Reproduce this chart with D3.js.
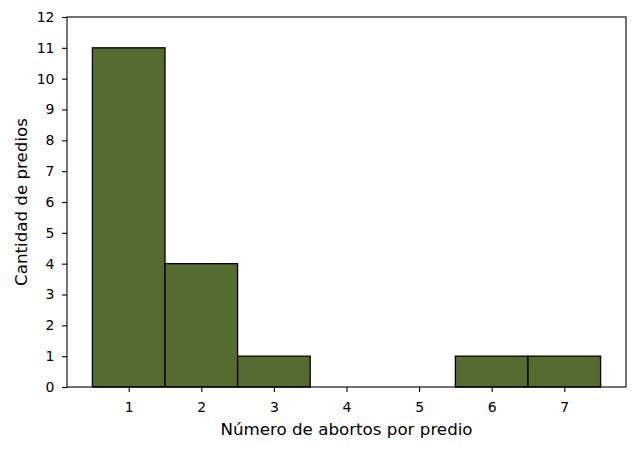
<!DOCTYPE html>
<html><head><meta charset="utf-8">
<script src="https://cdn.jsdelivr.net/npm/d3@7"></script>
<style>body{margin:0;background:#fff}svg{display:block}text{font-family:"DejaVu Sans",sans-serif}</style>
</head><body><svg id="c" width="637" height="450"></svg>
<script>
const categories = [1, 2, 3, 4, 5, 6, 7];
const counts = [11, 4, 1, 0, 0, 1, 1];
const yTicks = [0,1,2,3,4,5,6,7,8,9,10,11,12];
const xLabel = "Número de abortos por predio";
const yLabel = "Cantidad de predios";

const svg = d3.select("#c");
const L = 67, R = 626, T = 17, B = 387;
const x = d3.scaleLinear().domain([0.15, 7.85]).range([L, R]);
const y = d3.scaleLinear().domain([0, 12]).range([B, T]);

svg.append("g").selectAll("rect").data(categories).join("rect")
  .attr("x", d => x(d - 0.5)).attr("width", d => x(d + 0.5) - x(d - 0.5))
  .attr("y", (d,i) => y(counts[i])).attr("height", (d,i) => y(0) - y(counts[i]))
  .attr("fill", "#556B2F").attr("stroke", "#000").attr("stroke-width", 1.3);

const xa = svg.append("g").attr("transform", `translate(0,${B})`)
  .call(d3.axisBottom(x).tickValues(categories).tickSize(5).tickPadding(10).tickFormat(d3.format("d")));
const ya = svg.append("g").attr("transform", `translate(${L},0)`)
  .call(d3.axisLeft(y).tickValues(yTicks).tickSize(5).tickPadding(7.5).tickFormat(d3.format("d")));
[xa, ya].forEach(a => {
  a.select(".domain").remove();
  a.attr("font-size", null).attr("font-family", null);
  a.selectAll(".tick line").attr("stroke", "#000").attr("stroke-width", 1.1);
  a.selectAll(".tick text").attr("fill", "#000").style("font-size", "14px").style("font-family", "DejaVu Sans");
});
svg.append("rect").attr("x", L).attr("y", T).attr("width", R - L).attr("height", B - T)
  .attr("fill", "none").attr("stroke", "#000").attr("stroke-width", 1.1);

svg.append("text").attr("x", (L + R) / 2).attr("y", 435).attr("text-anchor", "middle")
  .style("font-size", "16.7px").text(xLabel);
svg.append("text").attr("transform", `translate(27,${(T + B) / 2}) rotate(-90)`).attr("text-anchor", "middle")
  .style("font-size", "16.7px").text(yLabel);
</script></body></html>
